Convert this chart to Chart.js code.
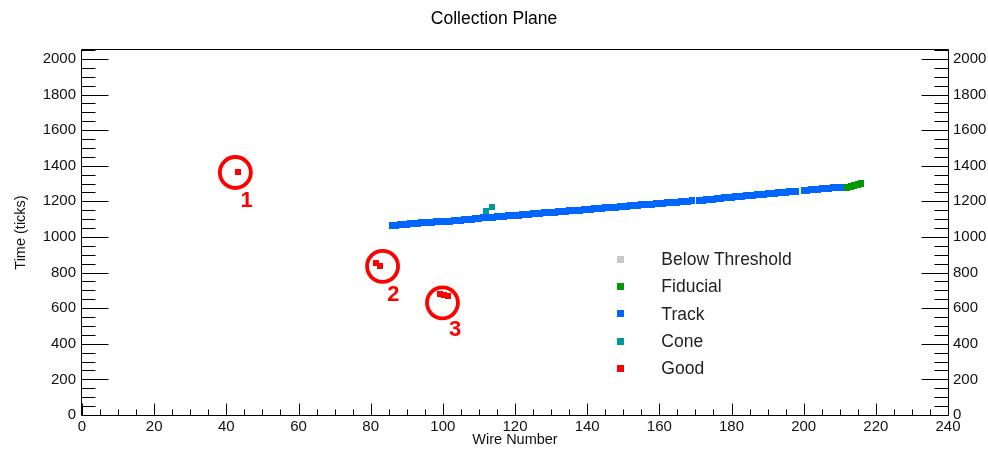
<!DOCTYPE html>
<html>
<head>
<meta charset="utf-8">
<script src="https://cdn.jsdelivr.net/npm/chart.js@4.4.1/dist/chart.umd.min.js"></script>
<style>
  html, body { margin: 0; padding: 0; background: #ffffff; }
  #wrap { width: 988px; height: 449px; }
</style>
</head>
<body>
<div id="wrap"><canvas id="c" width="988" height="449"></canvas></div>
<script>
// ---- labels ----
const chartTitle = 'Collection Plane';
const xTitle = 'Wire Number';
const yTitle = 'Time (ticks)';
const xTickValues = [0, 20, 40, 60, 80, 100, 120, 140, 160, 180, 200, 220, 240];
const yTickValues = [0, 200, 400, 600, 800, 1000, 1200, 1400, 1600, 1800, 2000];

// ---- hit categories (legend order) ----
const seriesNames = ['Below Threshold', 'Fiducial', 'Track', 'Cone', 'Good'];
const seriesColors = ['#c8c8c8', '#009900', '#0066ff', '#009999', '#ff0000'];

// ---- hits: wire number / time in ticks ----
const belowWires = [];
const belowTimes = [];

const fiducialWires = [212, 213, 214, 215, 216];
const fiducialTimes = [1276, 1281, 1287, 1292, 1298];

const trackWires = [
  86, 87, 88, 89, 90, 91, 92, 93, 94, 95, 96, 97, 98, 99, 100, 101, 102, 103, 104, 105,
  106, 107, 108, 109, 110, 111, 112, 113, 114, 115, 116, 117, 118, 119, 120, 121, 122, 123, 124, 125,
  126, 127, 128, 129, 130, 131, 132, 133, 134, 135, 136, 137, 138, 139, 140, 141, 142, 143, 144, 145,
  146, 147, 148, 149, 150, 151, 152, 153, 154, 155, 156, 157, 158, 159, 160, 161, 162, 163, 164, 165,
  166, 167, 168, 169, 171, 172, 173, 174, 175, 176, 177, 178, 179, 180, 181, 182, 183, 184, 185, 186,
  187, 188, 189, 190, 191, 192, 193, 194, 195, 196, 197, 198, 200, 201, 202, 203, 204, 205, 206, 207,
  208, 209, 210, 211
];
const trackTimes = [
  1066, 1067, 1068, 1069, 1071, 1073, 1076, 1078, 1079, 1080, 1082, 1083, 1085, 1086, 1087, 1088, 1089, 1091, 1093, 1094,
  1096, 1098, 1100, 1102, 1104, 1107, 1110, 1111, 1112, 1113, 1114, 1116, 1118, 1119, 1121, 1123, 1125, 1126, 1128, 1130,
  1131, 1133, 1135, 1136, 1138, 1140, 1141, 1143, 1145, 1146, 1148, 1150, 1151, 1153, 1155, 1156, 1158, 1160, 1161, 1163,
  1165, 1166, 1168, 1170, 1171, 1173, 1175, 1176, 1178, 1180, 1181, 1183, 1185, 1187, 1188, 1190, 1191, 1193, 1195, 1196,
  1198, 1199, 1201, 1202, 1205, 1207, 1209, 1211, 1213, 1215, 1217, 1219, 1221, 1223, 1225, 1227, 1229, 1231, 1233, 1235,
  1237, 1238, 1240, 1242, 1244, 1246, 1248, 1250, 1252, 1254, 1256, 1258, 1261, 1263, 1265, 1267, 1268, 1270, 1272, 1273,
  1275, 1277, 1278, 1280
];

const coneWires = [112, 113.5];
const coneTimes = [1146, 1170];

const goodWires = [43.2, 81.5, 82.5, 99.2, 100.2, 101.3];
const goodTimes = [1362, 853, 839, 678, 674, 667];

// ---- numbered rings around the isolated hits ----
const markWires = [42.5, 83.3, 99.9];
const markTimes = [1362, 835, 630];
const markLabels = ['1', '2', '3'];
const markLabelWires = [45.6, 86.3, 103.4];
const markLabelTimes = [1205, 677, 480];

const FONT = "'Liberation Sans', Arial, Helvetica, sans-serif";
const toPoints = (xs, ys) => xs.map((x, i) => ({ x: x, y: ys[i] }));

// small filled block used as a hit marker
function hitMarker(color, w, h) {
  const cv = document.createElement('canvas');
  cv.width = w;
  cv.height = h;
  const g = cv.getContext('2d');
  g.fillStyle = color;
  g.fillRect(0, 0, w, h);
  return cv;
}

function hitSet(idx, xs, ys, order, w, h) {
  return {
    label: seriesNames[idx],
    data: toPoints(xs, ys),
    pointStyle: hitMarker(seriesColors[idx], w, h),
    pointRadius: 4,
    pointHoverRadius: 4,
    borderWidth: 0,
    backgroundColor: seriesColors[idx],
    borderColor: seriesColors[idx],
    showLine: false,
    order: order
  };
}

// frame, inward ticks, legend and ring numbers
const framePlugin = {
  id: 'framePlugin',
  afterDraw(chart) {
    const ctx = chart.ctx;
    const a = chart.chartArea;
    const xs = chart.scales.x, ys = chart.scales.y;
    const L = Math.round(a.left) - 0.5, R = Math.round(a.right) + 0.5;
    const T = Math.round(a.top) - 0.5, B = Math.round(a.bottom) + 0.5;
    ctx.save();
    ctx.strokeStyle = '#000';
    ctx.lineWidth = 1;
    ctx.beginPath();
    ctx.rect(L, T, R - L, B - T);
    // x ticks (bottom, pointing up)
    for (let v = xs.min; v <= xs.max + 1e-6; v += 5) {
      const px = Math.round(xs.getPixelForValue(v)) + 0.5;
      const len = (v % 20 === 0) ? 12 : 6;
      ctx.moveTo(px, B);
      ctx.lineTo(px, B - len);
    }
    // y ticks (left and right, pointing inward)
    for (let v = 0; v <= ys.max + 1e-6; v += 50) {
      const py = Math.round(ys.getPixelForValue(v)) + 0.5;
      const len = (v % 200 === 0) ? 27 : 14;
      ctx.moveTo(L, py);
      ctx.lineTo(L + len, py);
      ctx.moveTo(R, py);
      ctx.lineTo(R - len, py);
    }
    ctx.stroke();

    // legend
    const lx = a.left + 0.622 * (a.right - a.left);
    const tx = a.left + 0.669 * (a.right - a.left);
    const ly0 = a.top + 0.573 * (a.bottom - a.top);
    const dy = 27.3;
    ctx.font = '17.5px ' + FONT;
    ctx.textBaseline = 'middle';
    ctx.textAlign = 'left';
    seriesNames.forEach((name, i) => {
      const y = ly0 + i * dy;
      ctx.fillStyle = seriesColors[i];
      ctx.fillRect(Math.round(lx - 3.5), Math.round(y - 3.5), 7, 7);
      ctx.fillStyle = '#222';
      ctx.fillText(name, tx, y + 1);
    });

    // ring numbers
    ctx.font = 'bold 22px ' + FONT;
    ctx.fillStyle = '#ff0000';
    ctx.textAlign = 'center';
    markLabels.forEach((t, i) => {
      ctx.fillText(t, xs.getPixelForValue(markLabelWires[i]), ys.getPixelForValue(markLabelTimes[i]));
    });
    ctx.restore();
  }
};

const tickFont = { family: FONT, size: 15 };
const plainLabel = v => String(v);

new Chart(document.getElementById('c'), {
  type: 'scatter',
  data: {
    datasets: [
      hitSet(0, belowWires, belowTimes, 5, 6, 6),
      hitSet(1, fiducialWires, fiducialTimes, 3, 6, 7),
      hitSet(2, trackWires, trackTimes, 4, 6, 7),
      hitSet(3, coneWires, coneTimes, 2, 6, 6),
      hitSet(4, goodWires, goodTimes, 1, 6, 6),
      {
        label: 'rings',
        data: toPoints(markWires, markTimes),
        pointStyle: 'circle',
        pointRadius: 15.5,
        pointHoverRadius: 15.5,
        borderWidth: 3.8,
        pointBorderWidth: 3.8,
        borderColor: '#ff0000',
        backgroundColor: 'rgba(0,0,0,0)',
        showLine: false,
        order: 0
      }
    ]
  },
  options: {
    responsive: false,
    animation: false,
    events: [],
    devicePixelRatio: 1,
    layout: { padding: 0 },
    plugins: {
      legend: { display: false },
      tooltip: { enabled: false },
      title: {
        display: true,
        text: chartTitle,
        color: '#000',
        font: { family: FONT, size: 17.5, weight: 'normal', lineHeight: 1.2 },
        padding: { top: 8.5, bottom: 20.5 }
      }
    },
    scales: {
      x: {
        type: 'linear',
        position: 'bottom',
        min: 0, max: 240,
        afterBuildTicks: s => { s.ticks = xTickValues.map(v => ({ value: v })); },
        afterFit: s => { s.height = 34; },
        grid: { display: false, drawTicks: false },
        border: { display: false },
        ticks: { color: '#111', font: tickFont, padding: 3, maxRotation: 0, autoSkip: false, callback: plainLabel },
        title: { display: true, text: xTitle, color: '#111', font: { family: FONT, size: 14.5 }, padding: { top: 0, bottom: 0 } }
      },
      y: {
        type: 'linear',
        position: 'left',
        min: 0, max: 2050,
        afterBuildTicks: s => { s.ticks = yTickValues.map(v => ({ value: v })); },
        afterFit: s => { s.width = 82; },
        grid: { display: false, drawTicks: false },
        border: { display: false },
        ticks: { color: '#111', font: tickFont, padding: 6, autoSkip: false, callback: plainLabel },
        title: { display: true, text: yTitle, color: '#111', font: { family: FONT, size: 14.5 }, padding: { top: 12, bottom: 0 } }
      },
      y2: {
        type: 'linear',
        position: 'right',
        min: 0, max: 2050,
        afterBuildTicks: s => { s.ticks = yTickValues.map(v => ({ value: v })); },
        afterFit: s => { s.width = 40; },
        grid: { display: false, drawTicks: false },
        border: { display: false },
        ticks: { color: '#111', font: tickFont, padding: 5, autoSkip: false, callback: plainLabel }
      }
    }
  },
  plugins: [framePlugin]
});
</script>
</body>
</html>
